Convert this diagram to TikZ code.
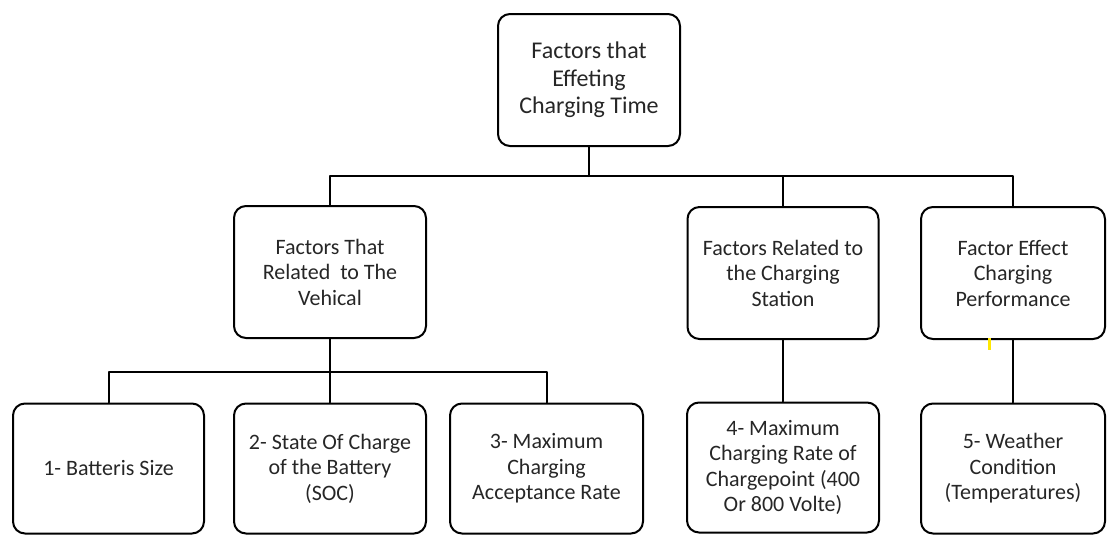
\documentclass[tikz,border=0pt]{standalone}
\usepackage{fontspec}
\setmainfont{Carlito}
\begin{document}
\begin{tikzpicture}[x=1pt,y=-1pt,line join=round,line cap=round,
	box/.style={draw,line width=2pt,rounded corners=12pt,align=center,inner sep=0pt,
		text=black!85,font=\fontsize{22}{25.5}\selectfont,minimum height=130},
	link/.style={line width=2pt}]
	\useasboundingbox (0,0) rectangle (1107,536);
	\node[box,minimum width=182,minimum height=132,font=\fontsize{24}{27.5}\selectfont] (top) at (589,80)
		{Factors that\\Effeting\\Charging Time};
	\node[box,minimum width=192,minimum height=132] (veh) at (330,272)
		{Factors That\\Related\ \ to The\\Vehical};
	\node[box,minimum width=191,minimum height=132] (stat) at (783,273)
		{Factors Related to\\the Charging\\Station};
	\node[box,minimum width=184,minimum height=132] (perf) at (1013,273)
		{Factor Effect\\Charging\\Performance};
	\node[box,minimum width=191] (size) at (108.5,468.5) {1- Batteris Size};
	\node[box,minimum width=192] (soc) at (330,468.5) {2- State Of Charge\\of the Battery\\(SOC)};
	\node[box,minimum width=193] (rate) at (546.5,468.5) {3- Maximum\\Charging\\Acceptance Rate};
	\node[box,minimum width=192] (point) at (783,467.5)
		{4- Maximum\\Charging Rate of\\Chargepoint (400\\Or 800 Volte)};
	\node[box,minimum width=184] (weather) at (1013,468.5) {5- Weather\\Condition\\(Temperatures)};
	\coordinate (bus1) at (589,176);
	\coordinate (bus2) at (330,372);
	\draw[link] (top.south) -- (bus1);
	\draw[link] (veh.north) |- (bus1) -| (perf.north);
	\draw[link] (bus1 -| stat.north) -- (stat.north);
	\draw[link] (veh.south) -- (bus2) -- (soc.north);
	\draw[link] (size.north) |- (bus2) -| (rate.north);
	\draw[link] (stat.south) -- (point.north);
	\draw[link] (perf.south) -- (weather.north);
	\draw[yellow!90!orange,line width=3pt,line cap=butt] (989,338) -- (989,350);
\end{tikzpicture}
\end{document}
